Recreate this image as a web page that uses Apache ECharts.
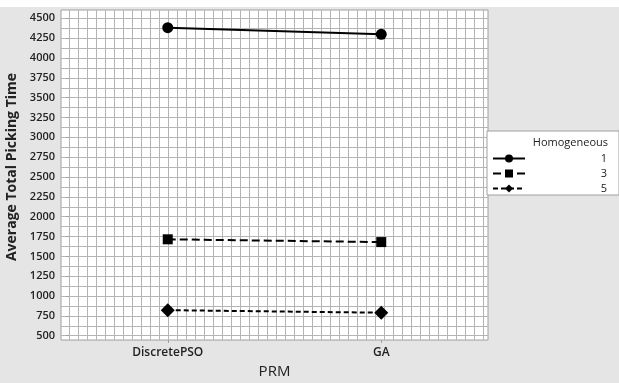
<!DOCTYPE html>
<html>
<head>
<meta charset="utf-8">
<script src="https://cdn.jsdelivr.net/npm/echarts@6/dist/echarts.min.js"></script>
<style>html,body{margin:0;padding:0;background:#e5e5e5;}#c{width:619px;height:383px;}</style>
</head>
<body>
<div id="c"></div>
<script>
const categories = ['DiscretePSO', 'GA'];
const seriesNames = ['1', '3', '5'];
const series1 = [4382, 4298];
const series3 = [1715, 1680];
const series5 = [822, 790];
const yTickLabels = [500, 750, 1000, 1250, 1500, 1750, 2000, 2250, 2500, 2750, 3000, 3250, 3500, 3750, 4000, 4250, 4500];

const yGrid = [];
for (let v = 500; v <= 4500; v += 125) yGrid.push(v);
const xGrid = [];
for (let i = 0; i <= 46; i++) xGrid.push(i);

const FONT = 'Open Sans';
const chart = echarts.init(document.getElementById('c'));
chart.setOption({
  backgroundColor: '#e5e5e5',
  animation: false,
  textStyle: { fontFamily: FONT },
  graphic: [{ type: 'rect', left: 0, top: 0, shape: { width: 619, height: 7 }, style: { fill: '#ffffff' }, silent: true }],
  title: {
    text: 'Homogeneous', right: 11, top: 137, z: 10,
    textStyle: { fontFamily: FONT, fontSize: 11, fontWeight: 'normal', color: '#222' }, padding: 0
  },
  legend: {
    orient: 'vertical', left: 487, top: 131, itemGap: 4, itemWidth: 32, itemHeight: 10,
    padding: [22, 12, 1, 5], backgroundColor: '#ffffff', borderColor: '#a0a0a0', borderWidth: 1,
    selectedMode: false, data: seriesNames,
    formatter: n => '{a|' + n + '}',
    textStyle: { fontFamily: FONT, fontSize: 11, color: '#222', rich: { a: { width: 77, align: 'right', fontSize: 11, fontFamily: FONT, color: '#222' } } }
  },
  grid: { left: 61, right: 131, top: 10, bottom: 43, containLabel: false, outerBoundsMode: 'none',
    show: true, backgroundColor: '#ffffff', borderColor: '#a0a0a0', borderWidth: 1 },
  xAxis: [{
    type: 'category', data: categories, boundaryGap: true,
    axisLine: { show: false },
    axisTick: { show: true, alignWithLabel: true, length: 3, lineStyle: { color: '#a0a0a0' } },
    axisLabel: { margin: 7, fontSize: 12, fontWeight: 600, color: '#222', fontFamily: FONT },
    splitLine: { show: false },
    name: 'PRM', nameLocation: 'middle', nameGap: 23,
    nameTextStyle: { fontSize: 15, color: '#222', fontFamily: FONT }
  }, {
    type: 'value', min: -0.89, max: 46.55, position: 'top',
    axisLine: { show: false }, axisLabel: { show: false },
    axisTick: { show: false, customValues: xGrid },
    splitLine: { show: true, lineStyle: { color: '#b4b4b4', width: 1 } }
  }],
  yAxis: [{
    type: 'value', min: 446, max: 4605,
    axisLine: { show: false },
    axisTick: { show: true, length: 3, customValues: yTickLabels, lineStyle: { color: '#a0a0a0' } },
    axisLabel: { customValues: yTickLabels, formatter: v => String(v), margin: 6, fontSize: 11, fontWeight: 600, color: '#222', fontFamily: FONT },
    splitLine: { show: false },
    name: 'Average Total Picking Time', nameLocation: 'middle', nameGap: 40,
    nameTextStyle: { fontSize: 14, fontWeight: 'bold', color: '#222', fontFamily: FONT, padding: [0, 0, 0, 16] }
  }, {
    type: 'value', min: 446, max: 4605, position: 'right',
    axisLine: { show: false }, axisLabel: { show: false },
    axisTick: { show: false, customValues: yGrid },
    splitLine: { show: true, lineStyle: { color: '#b4b4b4', width: 1 } }
  }],
  series: [{
    name: seriesNames[0], type: 'line', data: series1, xAxisIndex: 0, yAxisIndex: 0,
    symbol: 'circle', symbolSize: 11, color: '#000',
    lineStyle: { color: '#000', width: 2, type: 'solid' }, itemStyle: { color: '#000' }
  }, {
    name: seriesNames[1], type: 'line', data: series3, xAxisIndex: 0, yAxisIndex: 0,
    symbol: 'rect', symbolSize: 10, color: '#000',
    lineStyle: { color: '#000', width: 2, type: [8, 4] }, itemStyle: { color: '#000' }
  }, {
    name: seriesNames[2], type: 'line', data: series5, xAxisIndex: 0, yAxisIndex: 0,
    symbol: 'diamond', symbolSize: 14, color: '#000',
    lineStyle: { color: '#000', width: 2, type: [5, 3] }, itemStyle: { color: '#000' }
  }]
});
</script>
</body>
</html>
